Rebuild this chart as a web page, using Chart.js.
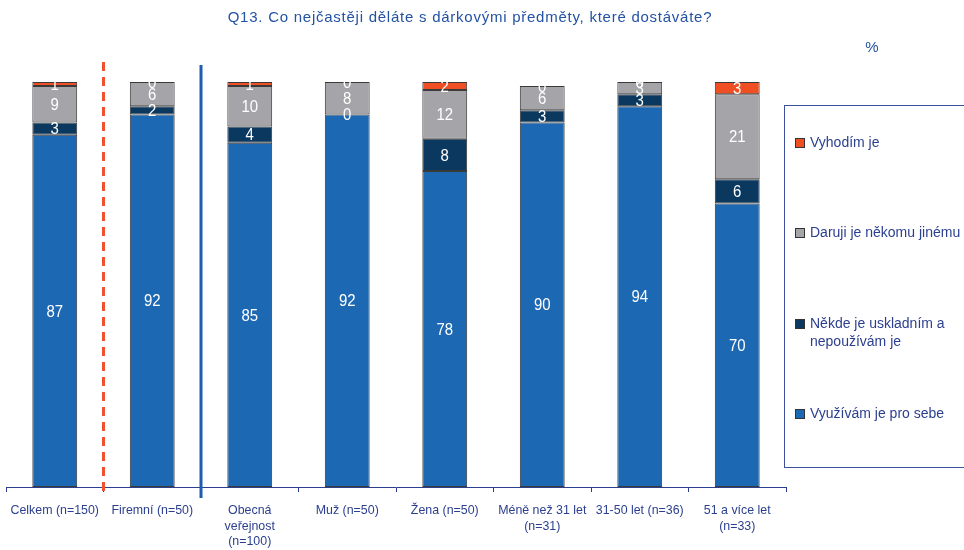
<!DOCTYPE html>
<html lang="cs">
<head>
<meta charset="utf-8">
<title>Q13</title>
<script src="https://cdn.jsdelivr.net/npm/chart.js@4/dist/chart.umd.min.js"></script>
<style>
  html, body { margin: 0; padding: 0; background: #fff; }
  #wrap { position: relative; width: 964px; height: 550px; }
  canvas { display: block; }
</style>
</head>
<body>
<div id="wrap"><canvas id="c" width="964" height="550"></canvas></div>
<script>
// Categories (respondent groups) and the four answer shares, in percent
const categories = [
  ['Celkem (n=150)'],
  ['Firemní (n=50)'],
  ['Obecná', 'veřejnost', '(n=100)'],
  ['Muž (n=50)'],
  ['Žena (n=50)'],
  ['Méně než 31 let', '(n=31)'],
  ['31-50 let (n=36)'],
  ['51 a více let', '(n=33)']
];
const seriesNames = [
  'Využívám je pro sebe',
  'Někde je uskladním a nepoužívám je',
  'Daruji je někomu jinému',
  'Vyhodím je'
];
const vyuzivam  = [87, 92, 85, 92, 78, 90, 94, 70];
const uskladnim = [3, 2, 4, 0, 8, 3, 3, 6];
const daruji    = [9, 6, 10, 8, 12, 6, 3, 21];
const vyhodim   = [1, 0, 1, 0, 2, 0, 0, 3];
const yTicks = [0, 100];

const colors = ['#1d68b3', '#0b385f', '#a5a5a9', '#f04e23'];
const legendLines = [
  ['Vyhodím je'],
  ['Daruji je někomu jinému'],
  ['Někde je uskladním a', 'nepoužívám je'],
  ['Využívám je pro sebe']
];
const legendColors = [colors[3], colors[2], colors[1], colors[0]];

const textBlue = '#2b3f8f';
const baseFont = '"Liberation Sans", Arial, sans-serif';

// White value labels centred in each stacked segment (zero values sit on the segment edge)
const valueLabels = {
  id: 'valueLabels',
  afterDatasetsDraw(chart) {
    const ctx = chart.ctx;
    chart.data.datasets.forEach((ds, di) => {
      const meta = chart.getDatasetMeta(di);
      meta.data.forEach((el, i) => {
        const v = ds.data[i];
        const y = (el.y + el.base) / 2;
        ctx.save();
        ctx.fillStyle = '#ffffff';
        ctx.font = '17px ' + baseFont;
        ctx.textAlign = 'center';
        ctx.textBaseline = 'middle';
        ctx.translate(el.x, y + 1);
        ctx.scale(0.88, 1);
        ctx.fillText(String(v), 0, 0);
        ctx.restore();
      });
    });
  }
};

// Title, unit, category labels, group separators and the legend box
const decorations = {
  id: 'decorations',
  afterDraw(chart) {
    const ctx = chart.ctx;
    const xs = chart.scales.x;
    const area = chart.chartArea;
    ctx.save();

    // title and unit
    ctx.fillStyle = '#2452a3';
    ctx.font = '15px ' + baseFont;
    ctx.textAlign = 'center';
    ctx.textBaseline = 'middle';
    ctx.letterSpacing = '0.75px';
    ctx.fillText('Q13. Co nejčastěji děláte s dárkovými předměty, které dostáváte?', 470, 18);
    ctx.letterSpacing = '0px';
    ctx.fillText('%', 872, 48);

    // category labels under the axis
    ctx.fillStyle = textBlue;
    ctx.font = '12.4px ' + baseFont;
    categories.forEach((lines, i) => {
      const x = xs.getPixelForValue(i);
      lines.forEach((t, k) => ctx.fillText(t, x, area.bottom + 24 + k * 15.5));
    });

    // separators between group blocks
    const b01 = (xs.getPixelForValue(0) + xs.getPixelForValue(1)) / 2;
    const b12 = (xs.getPixelForValue(1) + xs.getPixelForValue(2)) / 2;
    ctx.lineWidth = 3;
    ctx.strokeStyle = '#ef5230';
    ctx.setLineDash([9, 6]);
    ctx.beginPath();
    ctx.moveTo(b01, 62);
    ctx.lineTo(b01, area.bottom + 10);
    ctx.stroke();
    ctx.setLineDash([]);
    ctx.strokeStyle = '#1f5cab';
    ctx.beginPath();
    ctx.moveTo(b12, 65);
    ctx.lineTo(b12, area.bottom + 11);
    ctx.stroke();

    // legend box
    ctx.lineWidth = 1;
    ctx.strokeStyle = '#3d4f9f';
    ctx.strokeRect(784.5, 105.5, 200, 362);
    const ys = [143, 233, 324, 414];
    ctx.textAlign = 'left';
    ctx.font = '14px ' + baseFont;
    legendLines.forEach((lines, i) => {
      const y = ys[i];
      ctx.fillStyle = legendColors[i];
      ctx.fillRect(795.5, y - 4.5, 9, 9);
      ctx.strokeStyle = '#333';
      ctx.strokeRect(795.5, y - 4.5, 9, 9);
      ctx.fillStyle = textBlue;
      lines.forEach((t, k) => ctx.fillText(t, 810, y + k * 18));
    });
    ctx.restore();
  }
};

const seriesValues = [vyuzivam, uskladnim, daruji, vyhodim];

new Chart(document.getElementById('c'), {
  type: 'bar',
  data: {
    labels: categories,
    datasets: seriesValues.map((vals, i) => ({
      label: seriesNames[i],
      data: vals,
      backgroundColor: colors[i],
      borderColor: '#3a3a3a',
      borderWidth: 1,
      borderSkipped: false,
      categoryPercentage: 1,
      barPercentage: 0.46
    }))
  },
  options: {
    responsive: false,
    animation: false,
    layout: { padding: { top: 82, left: 6, right: 178, bottom: 58 } },
    plugins: { legend: { display: false }, tooltip: { enabled: false }, title: { display: false } },
    scales: {
      x: {
        stacked: true,
        offset: true,
        ticks: { display: false },
        grid: { display: true, drawOnChartArea: false, drawTicks: true, tickLength: 5, color: '#2b3f8f', offset: true },
        border: { display: true, color: '#2b3f8f', width: 1 }
      },
      y: {
        stacked: true,
        display: false,
        min: yTicks[0],
        max: yTicks[1]
      }
    }
  },
  plugins: [valueLabels, decorations]
});
</script>
</body>
</html>
